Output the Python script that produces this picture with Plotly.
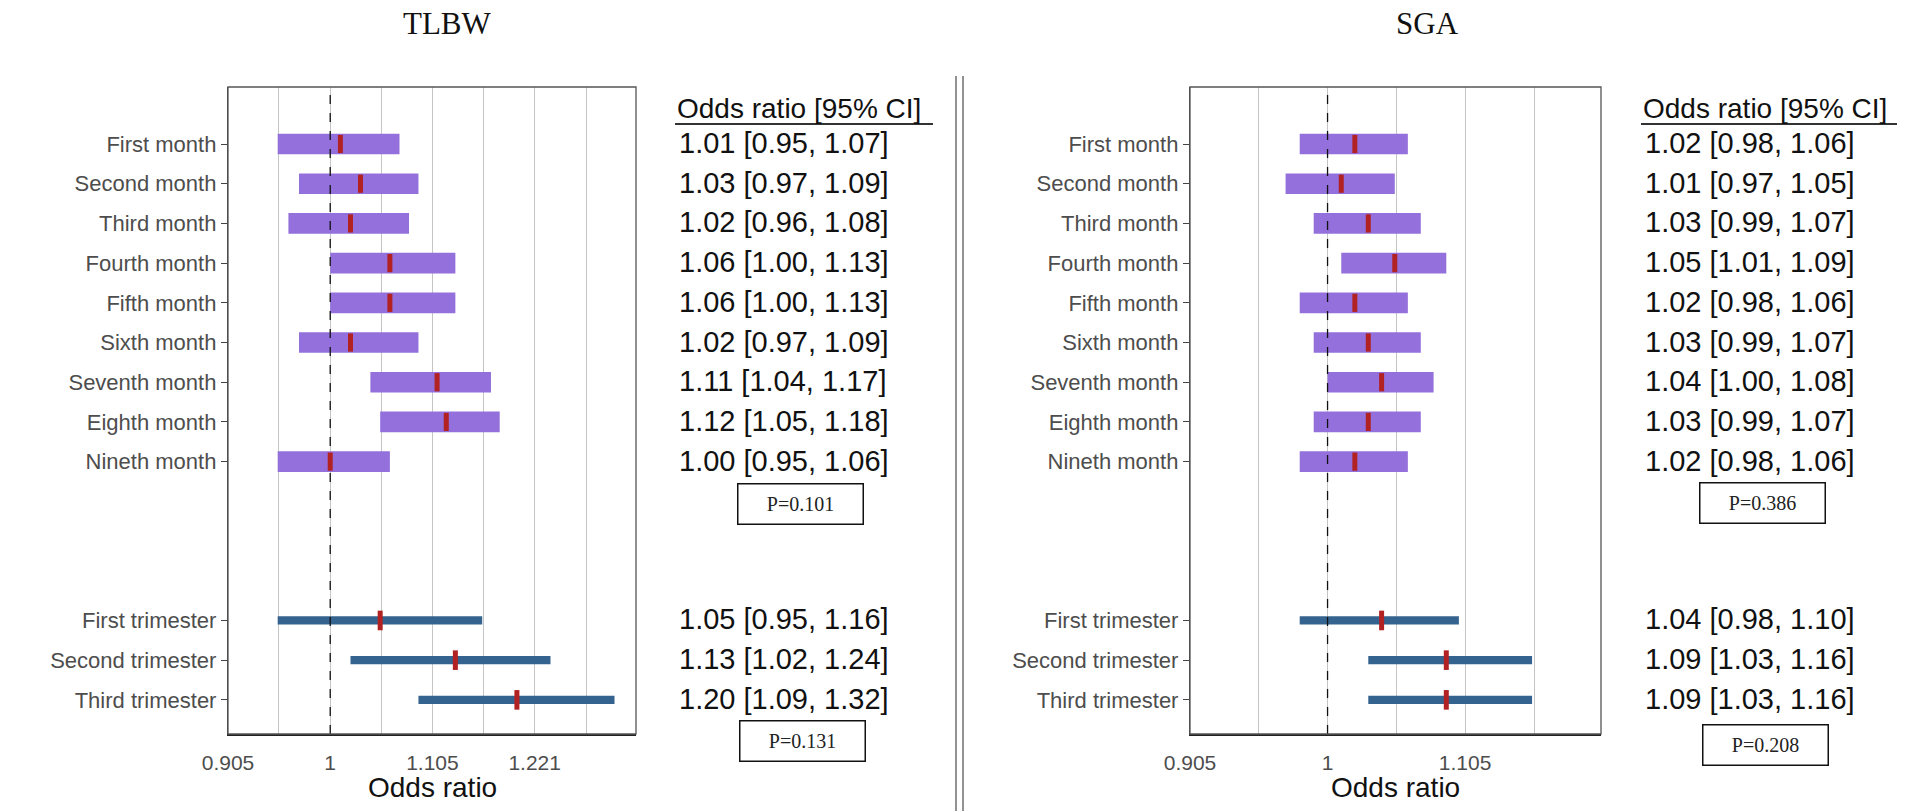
import math
import plotly.graph_objects as go

W, H = 1916, 811

# ---------------- data ----------------
month_labels = ["First month", "Second month", "Third month", "Fourth month", "Fifth month",
                "Sixth month", "Seventh month", "Eighth month", "Nineth month"]
trimester_labels = ["First trimester", "Second trimester", "Third trimester"]

tlbw_month_or = [1.01, 1.03, 1.02, 1.06, 1.06, 1.02, 1.11, 1.12, 1.00]
tlbw_month_lo = [0.95, 0.97, 0.96, 1.00, 1.00, 0.97, 1.04, 1.05, 0.95]
tlbw_month_hi = [1.07, 1.09, 1.08, 1.13, 1.13, 1.09, 1.17, 1.18, 1.06]
tlbw_tri_or = [1.05, 1.13, 1.20]
tlbw_tri_lo = [0.95, 1.02, 1.09]
tlbw_tri_hi = [1.16, 1.24, 1.32]
tlbw_p = ["P=0.101", "P=0.131"]

sga_month_or = [1.02, 1.01, 1.03, 1.05, 1.02, 1.03, 1.04, 1.03, 1.02]
sga_month_lo = [0.98, 0.97, 0.99, 1.01, 0.98, 0.99, 1.00, 0.99, 0.98]
sga_month_hi = [1.06, 1.05, 1.07, 1.09, 1.06, 1.07, 1.08, 1.07, 1.06]
sga_tri_or = [1.04, 1.09, 1.09]
sga_tri_lo = [0.98, 1.03, 1.03]
sga_tri_hi = [1.10, 1.16, 1.16]
sga_p = ["P=0.386", "P=0.208"]

tlbw_ticks = [0.905, 1, 1.105, 1.221]
sga_ticks = [0.905, 1, 1.105]
grid_vals = [0.905, 0.951, 1, 1.051, 1.105, 1.162, 1.221, 1.284]

# ---------------- layout helpers ----------------
def fx(p):
    return p / W

def fy(p):
    return 1 - p / H

PURPLE = "#9370DB"
BLUE = "#35638f"
RED = "#B22222"
GRAY_TXT = "#4d4d4d"
SANS = "Liberation Sans, Arial, sans-serif"
SERIF = "Liberation Serif, Times New Roman, serif"

month_rows = list(range(len(month_labels)))
tri_rows = [len(month_labels) + 3 + i for i in range(len(trimester_labels))]
Y_RANGE = [14.86, -1.436]

fig = go.Figure()

panels = [
    dict(name="TLBW", xa="x", ya="y", dom=(228, 636), xmax=1.348, ticks=tlbw_ticks,
         m_or=tlbw_month_or, m_lo=tlbw_month_lo, m_hi=tlbw_month_hi,
         t_or=tlbw_tri_or, t_lo=tlbw_tri_lo, t_hi=tlbw_tri_hi, p=tlbw_p,
         title_x=447, text_x=677, hdr=(675, 933), pbox=[(800, 504), (802, 741)]),
    dict(name="SGA", xa="x2", ya="y2", dom=(1190, 1601), xmax=1.2195, ticks=sga_ticks,
         m_or=sga_month_or, m_lo=sga_month_lo, m_hi=sga_month_hi,
         t_or=sga_tri_or, t_lo=sga_tri_lo, t_hi=sga_tri_hi, p=sga_p,
         title_x=1427, text_x=1643, hdr=(1641, 1897), pbox=[(1762, 503), (1765, 745)]),
]

annotations = []
shapes = []

for k, pn in enumerate(panels):
    xa, ya = pn["xa"], pn["ya"]
    # month CI bars
    fig.add_trace(go.Bar(
        orientation="h", y=month_rows,
        x=[h - l for l, h in zip(pn["m_lo"], pn["m_hi"])], base=pn["m_lo"],
        width=0.52, marker=dict(color=PURPLE, line=dict(width=0)),
        xaxis=xa, yaxis=ya, showlegend=False, hoverinfo="skip"))
    # trimester CI bars
    fig.add_trace(go.Bar(
        orientation="h", y=tri_rows,
        x=[h - l for l, h in zip(pn["t_lo"], pn["t_hi"])], base=pn["t_lo"],
        width=0.21, marker=dict(color=BLUE, line=dict(width=0)),
        xaxis=xa, yaxis=ya, showlegend=False, hoverinfo="skip"))
    # reference line at OR = 1
    fig.add_trace(go.Scatter(
        x=[1, 1], y=Y_RANGE, mode="lines",
        line=dict(color="#111111", width=1.3, dash="dash"),
        xaxis=xa, yaxis=ya, showlegend=False, hoverinfo="skip"))
    # point estimates
    fig.add_trace(go.Scatter(
        x=pn["m_or"], y=month_rows, mode="markers",
        marker=dict(symbol="line-ns", size=13, line=dict(color=RED, width=5)),
        xaxis=xa, yaxis=ya, showlegend=False))
    fig.add_trace(go.Scatter(
        x=pn["t_or"], y=tri_rows, mode="markers",
        marker=dict(symbol="line-ns", size=14, line=dict(color=RED, width=5)),
        xaxis=xa, yaxis=ya, showlegend=False))

    xs = "" if k == 0 else "2"
    fig.update_layout(**{
        "xaxis" + xs: dict(
            type="log", domain=[fx(pn["dom"][0]), fx(pn["dom"][1])],
            range=[math.log10(0.905), math.log10(pn["xmax"])],
            anchor=ya, tickmode="array", tickvals=grid_vals,
            ticktext=[("%g" % v) if v in pn["ticks"] else "" for v in grid_vals],
            showgrid=True, gridcolor="#c4c4c4", gridwidth=1,
            ticks="outside", ticklen=9, tickcolor="rgba(0,0,0,0)",
            tickfont=dict(family=SANS, size=21, color=GRAY_TXT),
            showline=True, linecolor="#222222", linewidth=2,
            zeroline=False, fixedrange=True, automargin=False),
        "yaxis" + xs: dict(
            domain=[fy(734), fy(87)], range=Y_RANGE, anchor=xa,
            tickmode="array", tickvals=month_rows + tri_rows,
            ticktext=month_labels + trimester_labels,
            ticks="outside", ticklen=6, tickwidth=1.3, tickcolor="#444444",
            tickfont=dict(family=SANS, size=22, color=GRAY_TXT),
            showgrid=False, zeroline=False,
            showline=True, linecolor="#444444", linewidth=1.3, fixedrange=True,
            automargin=False),
    })

    # panel box (top & right borders)
    shapes.append(dict(type="rect", xref=xa + " domain", yref=ya + " domain",
                       x0=0, x1=1, y0=0, y1=1, line=dict(color="#555555", width=1.3),
                       layer="above"))

    # title
    annotations.append(dict(text=pn["name"], xref="paper", yref="paper",
                            x=fx(pn["title_x"]), y=fy(24), showarrow=False,
                            xanchor="center", yanchor="middle",
                            font=dict(family=SERIF, size=31, color="#111111")))
    # axis title
    annotations.append(dict(text="Odds ratio", xref=xa + " domain", yref="paper",
                            x=0.5, y=fy(787), showarrow=False,
                            xanchor="center", yanchor="middle",
                            font=dict(family=SANS, size=28, color="#111111")))
    # column header
    annotations.append(dict(text="Odds ratio [95% CI]", xref="paper", yref="paper",
                            x=fx(pn["hdr"][0]), y=fy(109), showarrow=False,
                            xanchor="left", yanchor="middle",
                            font=dict(family=SANS, size=28, color="#111111")))
    shapes.append(dict(type="line", xref="paper", yref="paper",
                       x0=fx(pn["hdr"][0]), x1=fx(pn["hdr"][1]), y0=fy(124), y1=fy(124),
                       line=dict(color="#333333", width=2)))
    # OR [CI] texts
    rows = month_rows + tri_rows
    ors = pn["m_or"] + pn["t_or"]
    los = pn["m_lo"] + pn["t_lo"]
    his = pn["m_hi"] + pn["t_hi"]
    for r, o, l, h in zip(rows, ors, los, his):
        annotations.append(dict(text="%.2f [%.2f, %.2f]" % (o, l, h),
                                xref="paper", yref=ya, x=fx(pn["text_x"]), y=r,
                                yshift=1, showarrow=False, xanchor="left", yanchor="middle",
                                font=dict(family=SANS, size=29, color="#111111")))
    # P-value boxes
    for ptxt, (cx, cy) in zip(pn["p"], pn["pbox"]):
        annotations.append(dict(text=ptxt, xref="paper", yref="paper",
                                x=fx(cx), y=fy(cy), showarrow=False,
                                xanchor="center", yanchor="middle",
                                width=124, height=39, borderpad=0,
                                bordercolor="#111111", borderwidth=1.5,
                                bgcolor="white",
                                font=dict(family=SERIF, size=20, color="#222222")))

# double separator line
for sx in (956, 963):
    shapes.append(dict(type="line", xref="paper", yref="paper",
                       x0=fx(sx), x1=fx(sx), y0=fy(76), y1=0,
                       line=dict(color="#777777", width=1.6)))

fig.update_layout(
    width=W, height=H,
    margin=dict(l=0, r=0, t=0, b=0, autoexpand=False),
    paper_bgcolor="white", plot_bgcolor="white",
    barmode="overlay", showlegend=False,
    annotations=annotations, shapes=shapes,
)

fig.write_html("out.html", config={"displayModeBar": False},
               post_script="document.body.style.margin='0';document.body.style.overflow='hidden';")
